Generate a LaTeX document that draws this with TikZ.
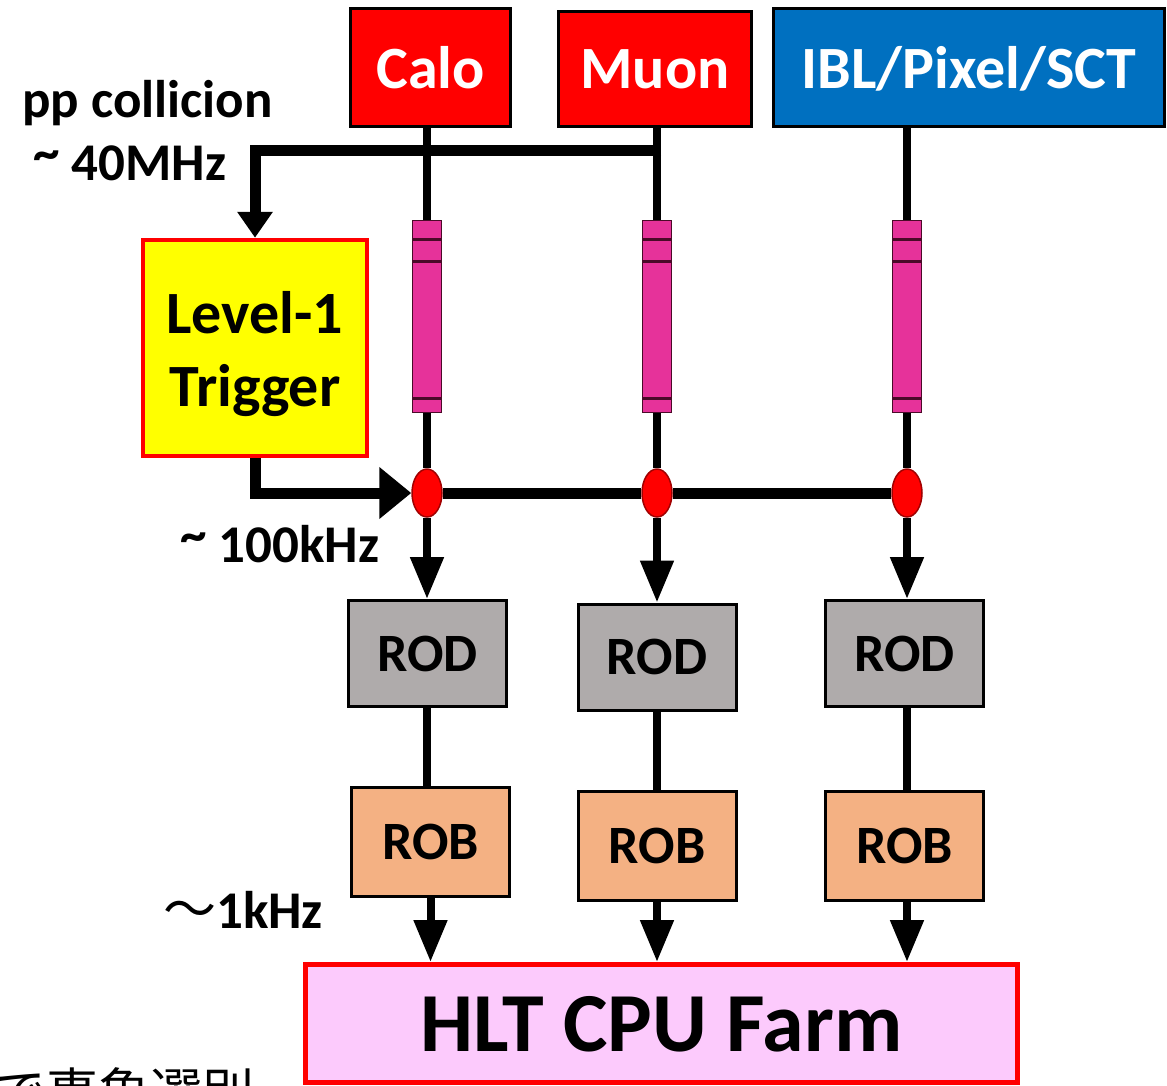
\documentclass[tikz,border=0pt]{standalone}
\usepackage{fontspec}
\setmainfont{Carlito}
\newfontfamily\cjk{Noto Sans CJK JP}
\usetikzlibrary{arrows.meta,shapes.geometric,calc}
\definecolor{boxred}{HTML}{FF0000}
\definecolor{boxblue}{HTML}{0070C0}
\definecolor{lvlyellow}{HTML}{FFFF00}
\definecolor{pipepink}{HTML}{E6329A}
\definecolor{pipedark}{HTML}{4A0A28}
\definecolor{rodgray}{HTML}{AFABAB}
\definecolor{robpeach}{HTML}{F4B183}
\definecolor{hltpink}{HTML}{FCCAFC}
\definecolor{elldark}{HTML}{A00000}
\newcommand{\hitilde}{\raisebox{10pt}{\textasciitilde}}
\begin{document}
\begin{tikzpicture}[x=1pt,y=-1pt,
  srcbox/.style={rectangle,draw=black,line width=3pt,fill=boxred,text=white,inner sep=0pt,
    font=\fontsize{60}{72}\selectfont\bfseries,text depth=0pt},
  lvlbox/.style={rectangle,draw=boxred,line width=4.5pt,fill=lvlyellow,inner sep=0pt,
    minimum width=224pt,minimum height=216pt},
  lvltext/.style={inner sep=0pt,align=center,font=\fontsize{60}{73}\selectfont\bfseries},
  pipebox/.style={rectangle,draw=pipedark,line width=1.5pt,fill=pipepink,inner sep=0pt,
    minimum width=29pt,minimum height=192pt,
    path picture={
      \draw[pipedark,line width=3pt]
        ([yshift=-19pt]path picture bounding box.north west) -- ([yshift=-19pt]path picture bounding box.north east)
        ([yshift=-41pt]path picture bounding box.north west) -- ([yshift=-41pt]path picture bounding box.north east)
        ([yshift=14pt]path picture bounding box.south west) -- ([yshift=14pt]path picture bounding box.south east);
    }},
  selell/.style={ellipse,draw=elldark,line width=1.5pt,fill=boxred,inner sep=0pt,
    minimum width=30pt,minimum height=48pt},
  rodbox/.style={rectangle,draw=black,line width=3pt,fill=rodgray,inner sep=0pt,
    minimum width=158pt,minimum height=106pt,font=\fontsize{54}{60}\selectfont\bfseries,text depth=0pt},
  robbox/.style={rectangle,draw=black,line width=3pt,fill=robpeach,inner sep=0pt,
    minimum width=158pt,minimum height=109pt,font=\fontsize{54}{60}\selectfont\bfseries,text depth=0pt},
  hltbox/.style={rectangle,draw=boxred,line width=5pt,fill=hltpink,inner sep=0pt,
    minimum width=712pt,minimum height=118pt,font=\fontsize{84}{96}\selectfont\bfseries,text depth=0pt},
  lbl/.style={inner sep=0pt,font=\fontsize{53}{60}\selectfont\bfseries},
  jptext/.style={inner sep=0pt,font=\fontsize{52}{60}\selectfont\cjk},
  vline/.style={line width=8pt},
  hline/.style={line width=11pt},
  downtip/.style={-{Triangle[length=42pt,width=32pt]}},
]
\useasboundingbox (0,0) rectangle (1167,1085);

% source boxes
\node[srcbox,minimum width=160pt,minimum height=118pt] (calo) at (430.5,67.5) {Calo};
\node[srcbox,minimum width=193pt,minimum height=115pt] (muon) at (655,69) {Muon};
\node[srcbox,fill=boxblue,minimum width=391pt,minimum height=118pt] (ibl) at (969,67.5) {IBL/Pixel/SCT};

% level-1 trigger
\node[lvlbox] (lvl1) at (255,348) {};
\node[lvltext] (lvl1txt) at (255,354) {Level-1\\Trigger};

% pipelines
\node[pipebox] (pipeA) at (427,316.5) {};
\node[pipebox] (pipeB) at (657,316.5) {};
\node[pipebox] (pipeC) at (907,316.5) {};

% selection points
\node[selell] (ellA) at (427,493) {};
\node[selell] (ellB) at (657,493) {};
\node[selell] (ellC) at (907,493) {};

% ROD / ROB
\node[rodbox] (rodA) at (427.5,653.5) {ROD};
\node[rodbox] (rodB) at (657,657) {ROD};
\node[rodbox] (rodC) at (904.5,653.5) {ROD};
\node[robbox] (robA) at (430.5,842) {ROB};
\node[robbox] (robB) at (657,845.5) {ROB};
\node[robbox] (robC) at (904.5,845.5) {ROB};

% HLT
\node[hltbox] (hlt) at (661.5,1023.5) {HLT CPU Farm};

% connectors: sources to pipelines
\draw[vline] (pipeA.north |- calo.south) -- (pipeA.north);
\draw[vline] (pipeB.north |- muon.south) -- (pipeB.north);
\draw[vline] (pipeC.north |- ibl.south) -- (pipeC.north);
\draw[vline] (pipeA.south) -- (ellA.north);
\draw[vline] (pipeB.south) -- (ellB.north);
\draw[vline] (pipeC.south) -- (ellC.north);

% collision tap to level-1
\coordinate (jm) at (661,150);
\draw[hline,line join=miter,-{Triangle[length=26pt,width=34pt]}] (jm) -| (lvl1.north);

% level-1 accept to selection
\draw[hline,line join=miter,-{Triangle[length=32pt,width=50pt]}] (lvl1.south) |- (ellA.west);
\draw[hline] (ellA.east) -- (ellB.west);
\draw[hline] (ellB.east) -- (ellC.west);

% selection to ROD
\draw[vline,downtip] (ellA.south) -- (ellA.south |- rodA.north);
\draw[vline,downtip] (ellB.south) -- (ellB.south |- rodB.north);
\draw[vline,downtip] (ellC.south) -- (ellC.south |- rodC.north);

% ROD to ROB
\draw[vline] (rodA.south -| ellA.south) -- (ellA.south |- robA.north);
\draw[vline] (rodB.south) -- (robB.north);
\draw[vline] (rodC.south -| ellC.south) -- (ellC.south |- robC.north);

% ROB to HLT
\draw[vline,downtip] (robA.south) -- (robA.south |- hlt.north);
\draw[vline,downtip] (robB.south) -- (robB.south |- hlt.north);
\draw[vline,downtip] (ellC.south |- robC.south) -- (ellC.south |- hlt.north);

% rate labels
\node[lbl,anchor=base west] (pp) at (22,117) {pp collicion};
\node[lbl,anchor=base west] (f40) at (33,180) {\hitilde{} 40MHz};
\node[lbl,anchor=base west] (f100) at (180,562) {\hitilde{} 100kHz};
\node[lbl,anchor=base west] (f1) at (163,928) {{\cjk\mdseries 〜}1kHz};
\node[jptext,anchor=base west] (jp) at (-6,1111) {で事象選別};
\end{tikzpicture}
\end{document}
